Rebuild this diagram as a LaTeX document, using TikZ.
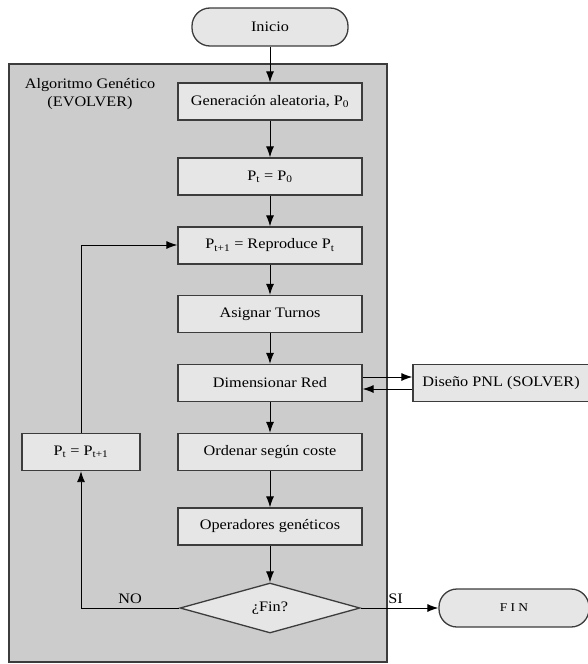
\documentclass[tikz,border=0pt]{standalone}
\usepackage{fontspec}
\setmainfont[FakeStretch=1.12]{Liberation Serif}
\usetikzlibrary{arrows.meta,shapes.geometric}
\definecolor{panelgray}{HTML}{CCCCCC}
\definecolor{boxgray}{HTML}{E6E6E6}
\definecolor{edgegray}{HTML}{3C3C3C}
\begin{document}
\begin{tikzpicture}[x=1pt,y=-1pt,
  font=\fontsize{14.5}{17.5}\selectfont,
  stepbox/.style={draw=edgegray,line width=1.3pt,fill=boxgray,minimum width=184pt,minimum height=37pt,inner sep=2pt},
  pill/.style={draw=edgegray,line width=1.3pt,fill=boxgray,rounded corners=18pt,minimum height=38pt,inner sep=2pt},
  decision/.style={draw=edgegray,line width=1.3pt,fill=boxgray,shape=diamond,aspect=3.6,minimum width=180pt,minimum height=50pt,inner sep=0pt},
  flow/.style={draw=black,line width=0.9pt,-{Latex[length=11pt,width=8pt]}}]
\useasboundingbox (0,0) rectangle (587,664);
% panel for the genetic algorithm
\node[draw=edgegray,line width=1.3pt,fill=panelgray,minimum width=378pt,minimum height=598pt,inner sep=0pt] (panel) at (198,363) {};
\node[align=center,inner sep=0pt] (paneltitle) at (90,94) {Algoritmo Genético\\(EVOLVER)};
% main column
\node[pill,minimum width=156pt] (inicio) at (270,27) {Inicio};
\node[stepbox] (gen) at (270,101.5) {Generación aleatoria, P\textsubscript{0}};
\node[stepbox] (pt) at (270,176.5) {P\textsubscript{t} = P\textsubscript{0}};
\node[stepbox] (repro) at (270,245.5) {P\textsubscript{t+1} = Reproduce P\textsubscript{t}};
\node[stepbox] (turnos) at (270,314) {Asignar Turnos};
\node[stepbox] (red) at (270,383) {Dimensionar Red};
\node[stepbox] (orden) at (270,452) {Ordenar según coste};
\node[stepbox] (oper) at (270,526.5) {Operadores genéticos};
\node[decision] (fin) at (270,608) {¿Fin?};
% side nodes
\node[stepbox,minimum width=118pt] (update) at (81,452) {P\textsubscript{t} = P\textsubscript{t+1}};
\node[stepbox,minimum width=176pt] (solver) at (501,383) {Diseño PNL (SOLVER)};
\node[pill,minimum width=150pt] (end) at (514,608) {\fontsize{12}{14}\selectfont F I N};
% connectors
\draw[flow] (inicio) -- (gen);
\draw[flow] (gen) -- (pt);
\draw[flow] (pt) -- (repro);
\draw[flow] (repro) -- (turnos);
\draw[flow] (turnos) -- (red);
\draw[flow] (red) -- (orden);
\draw[flow] (orden) -- (oper);
\draw[flow] (oper) -- (fin);
\draw[flow] ([yshift=6pt]red.east) -- ([yshift=6pt]solver.west);
\draw[flow] ([yshift=-6pt]solver.west) -- ([yshift=-6pt]red.east);
\draw[flow] (fin.west) -| node[pos=0.25,above=1pt] (nolabel) {NO} (update.south);
\draw[flow] (update.north) |- ([yshift=0.5pt]repro.west);
\draw[flow] (fin.east) -- node[pos=0.45,above=1pt] (silabel) {SI} (end.west);
\end{tikzpicture}
\end{document}
